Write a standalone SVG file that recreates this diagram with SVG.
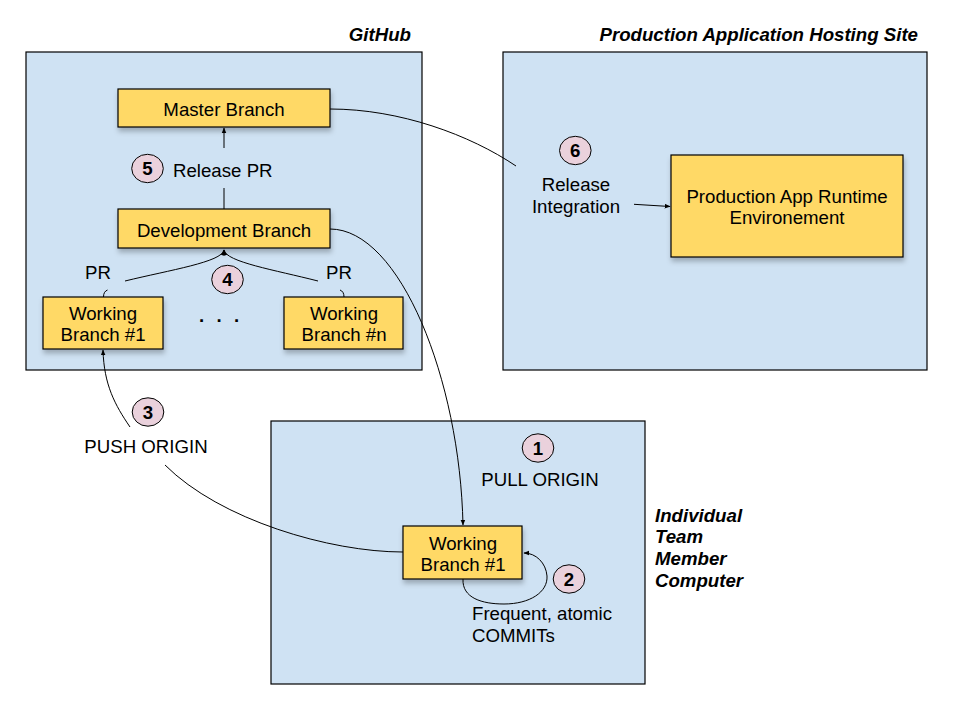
<svg xmlns="http://www.w3.org/2000/svg" width="960" height="720" viewBox="0 0 960 720">
<defs>
<style>
text{font-family:"Liberation Sans",Arial,sans-serif;font-size:18.67px;fill:#000}
.t{font-weight:bold;font-style:italic}
.c{text-anchor:middle}
.n{font-weight:bold;text-anchor:middle}
.cont{fill:#cfe2f3;stroke:#000;stroke-width:1.2}
.box{fill:#ffd966;stroke:#000;stroke-width:1.2;filter:url(#sh)}
.num{fill:#ead1dc;stroke:#000;stroke-width:1}
.ln{fill:none;stroke:#000;stroke-width:1}
</style>
<filter id="sh" x="-10%" y="-20%" width="130%" height="160%">
<feDropShadow dx="1" dy="4" stdDeviation="2.5" flood-color="#000" flood-opacity="0.25"/>
</filter>
<marker id="ah" viewBox="0 0 10 10" refX="9" refY="5" markerWidth="6" markerHeight="6" orient="auto" markerUnits="userSpaceOnUse">
<path d="M0,1 L10,5 L0,9 z" fill="#000"/>
</marker>
</defs>
<g id="github">
<rect class="cont" x="26" y="52" width="396" height="318"/>
<text class="t" x="411" y="41" text-anchor="end">GitHub</text>
</g>
<g id="production-site">
<rect class="cont" x="503" y="52" width="424" height="318"/>
<text class="t" x="918" y="41" text-anchor="end">Production Application Hosting Site</text>
</g>
<g id="individual-computer">
<rect class="cont" x="271" y="421" width="374" height="263"/>
<text class="t" x="655" y="522">Individual</text>
<text class="t" x="655" y="543">Team</text>
<text class="t" x="655" y="565">Member</text>
<text class="t" x="655" y="587">Computer</text>
</g>
<g id="connectors">
<path class="ln" d="M224,209 L224,188"/>
<path class="ln" d="M224,148 L224,128" marker-end="url(#ah)"/>
<path class="ln" d="M125,281 C170,270 222,262 224,250" marker-end="url(#ah)"/>
<path class="ln" d="M318,281 C275,270 226,262 224,250" marker-end="url(#ah)"/>
<path class="ln" d="M103.5,297 C103.5,293 105,291 107.5,290"/>
<path class="ln" d="M340,290 C342.5,291 344,293 344,297"/>
<path class="ln" d="M330,109 C400,109 470,135 516,166"/>
<path class="ln" d="M634,204.3 L670,206.5" marker-end="url(#ah)"/>
<path class="ln" d="M330,229 C400,229 460,380 463,525" marker-end="url(#ah)"/>
<path class="ln" d="M403,552 C330,552 220,520 165,465"/>
<path class="ln" d="M130,427 C115,405 104,385 103,350" marker-end="url(#ah)"/>
<path class="ln" d="M463,579 C462,598 482,604 504,604 C530,604 548,592 547,576 C546,563 536,553 524,553" marker-end="url(#ah)"/>
</g>
<g id="master-branch">
<rect class="box" x="118" y="89" width="212" height="38"/>
<text class="c" x="224" y="116">Master Branch</text>
</g>
<g id="development-branch">
<rect class="box" x="118" y="209" width="212" height="39"/>
<text class="c" x="224" y="236.5">Development Branch</text>
</g>
<g id="working-branch-1">
<rect class="box" x="43" y="297" width="120" height="52"/>
<text class="c" x="103" y="320">Working</text>
<text class="c" x="103" y="341">Branch #1</text>
</g>
<g id="working-branch-n">
<rect class="box" x="284" y="297" width="119" height="52"/>
<text class="c" x="344" y="320">Working</text>
<text class="c" x="344" y="341">Branch #n</text>
</g>
<g id="ellipsis">
<text x="199 208 216.6 226 234" y="321.5" font-weight="bold">. . .</text>
</g>
<g id="production-runtime">
<rect class="box" x="671" y="155" width="232" height="102"/>
<text class="c" x="787" y="203">Production App Runtime</text>
<text class="c" x="787" y="224">Environement</text>
</g>
<g id="local-working-branch">
<rect class="box" x="403" y="526" width="119" height="53"/>
<text class="c" x="463" y="549.5">Working</text>
<text class="c" x="463" y="571">Branch #1</text>
</g>
<g id="labels">
<text x="173" y="177">Release PR</text>
<text class="c" x="98" y="279">PR</text>
<text class="c" x="339" y="279">PR</text>
<text class="c" x="576" y="191">Release</text>
<text class="c" x="576" y="213">Integration</text>
<text class="c" x="146" y="453">PUSH ORIGIN</text>
<text class="c" x="540" y="486">PULL ORIGIN</text>
<text x="472" y="620">Frequent, atomic</text>
<text x="472" y="641.5">COMMITs</text>
</g>
<g id="step-1"><ellipse class="num" cx="538" cy="448" rx="15.8" ry="14.2"/><text class="n" x="538" y="454.5">1</text></g>
<g id="step-2"><ellipse class="num" cx="569" cy="579" rx="15.8" ry="14.2"/><text class="n" x="569" y="585.5">2</text></g>
<g id="step-3"><ellipse class="num" cx="148" cy="412" rx="15.8" ry="14.2"/><text class="n" x="148" y="418.5">3</text></g>
<g id="step-4"><ellipse class="num" cx="227.5" cy="279.5" rx="15.8" ry="14.2"/><text class="n" x="227.5" y="286">4</text></g>
<g id="step-5"><ellipse class="num" cx="147.5" cy="168.5" rx="15.8" ry="14.2"/><text class="n" x="147.5" y="175">5</text></g>
<g id="step-6"><ellipse class="num" cx="575.3" cy="150.5" rx="15.8" ry="14.2"/><text class="n" x="575.3" y="157">6</text></g>
</svg>
